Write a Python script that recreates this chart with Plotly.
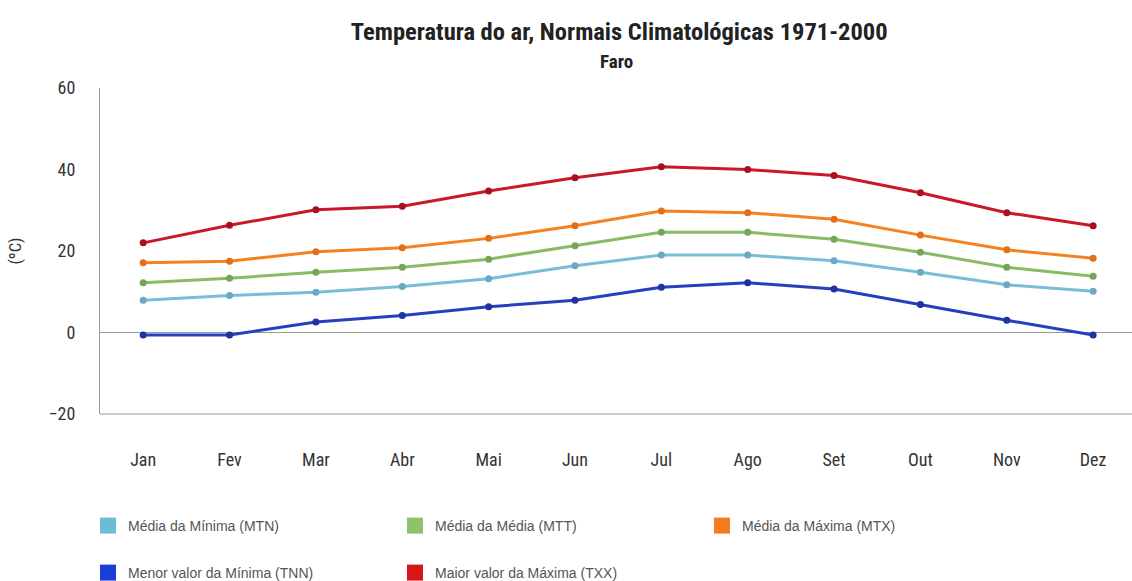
# { libraries
import plotly.graph_objects as go
# }

# { data
meses = ['Jan', 'Fev', 'Mar', 'Abr', 'Mai', 'Jun',
         'Jul', 'Ago', 'Set', 'Out', 'Nov', 'Dez']

mtn = [7.9, 9.1, 9.9, 11.3, 13.2, 16.4, 19.0, 19.0, 17.6, 14.8, 11.7, 10.1]
mtt = [12.2, 13.3, 14.8, 16.0, 18.0, 21.3, 24.6, 24.6, 22.9, 19.7, 16.0, 13.8]
mtx = [17.1, 17.5, 19.8, 20.8, 23.1, 26.2, 29.8, 29.4, 27.8, 23.9, 20.3, 18.2]
tnn = [-0.6, -0.6, 2.6, 4.2, 6.3, 7.9, 11.1, 12.2, 10.7, 6.9, 3.0, -0.6]
txx = [22.0, 26.3, 30.1, 31.0, 34.7, 38.0, 40.7, 40.0, 38.5, 34.3, 29.4, 26.2]

y_ticks = [-20, 0, 20, 40, 60]
# }

font_cond = "Liberation Sans Narrow, Arial Narrow, Roboto Condensed, Roboto, Liberation Sans, sans-serif"
font_leg = "Liberation Sans, Arial, sans-serif"

# (name, values, line color, marker color, legend color, legend)
series = [
    ('Média da Mínima (MTN)', mtn, '#7bbcd8', '#6aa9c6', '#6bbbd9', 'legend'),
    ('Média da Média (MTT)', mtt, '#88bb66', '#74a656', '#8dc26f', 'legend'),
    ('Média da Máxima (MTX)', mtx, '#f5821f', '#e0711a', '#f47c20', 'legend'),
    ('Menor valor da Mínima (TNN)', tnn, '#2440c0', '#1c34a0', '#1a3fd8', 'legend2'),
    ('Maior valor da Máxima (TXX)', txx, '#c8182a', '#a81020', '#d9151c', 'legend2'),
]

fig = go.Figure()

# lines with markers
for name, vals, lc, mc, legc, leg in series:
    fig.add_trace(go.Scatter(x=meses, y=vals, mode='lines+markers',
                             line=dict(color=lc, width=3),
                             marker=dict(color=mc, size=7),
                             showlegend=False, name=name))

# legend entries as squares
for name, vals, lc, mc, legc, leg in series:
    fig.add_trace(go.Scatter(x=[None], y=[None], mode='markers',
                             marker=dict(color=legc, size=17, symbol='square',
                                         line=dict(width=0)),
                             name=name, legend=leg))

leg_common = dict(orientation='h', xanchor='left', yanchor='top',
                  xref='container', yref='container',
                  font=dict(family=font_leg, size=14, color='#555555'),
                  entrywidth=262, entrywidthmode='pixels', itemsizing='trace',
                  bgcolor='rgba(0,0,0,0)')

fig.update_layout(
    width=1132, height=581,
    margin=dict(l=100, r=0, t=88, b=167, autoexpand=False),
    paper_bgcolor='white', plot_bgcolor='white',
    title=dict(text='<b>Temperatura do ar, Normais Climatológicas 1971-2000</b>',
               x=0.547, xanchor='center', y=1 - 31 / 581, yanchor='middle',
               font=dict(family=font_cond, size=24.5, color='#222222')),
    legend=dict(x=88 / 1132, y=1 - 510 / 581, **leg_common),
    legend2=dict(x=88 / 1132, y=1 - 557 / 581, **leg_common),
)

fig.add_annotation(text='<b>Faro</b>', xref='paper', yref='paper',
                   x=0.5, y=(88 - 61) / 326 + 1, xanchor='center', yanchor='middle',
                   showarrow=False,
                   font=dict(family=font_cond, size=19, color='#222222'))

fig.update_xaxes(range=[-0.5, 11.45], showgrid=False, showline=False,
                 ticks='', ticklabelstandoff=33, automargin=False,
                 tickfont=dict(family=font_cond, size=18, color='#333333'))
fig.update_yaxes(range=[-20, 60], tickvals=y_ticks, showgrid=False,
                 showline=True, linecolor='#999999', linewidth=1, mirror=False,
                 zeroline=True, zerolinecolor='#999999', zerolinewidth=1,
                 ticks='', ticklabelstandoff=20, automargin=False,
                 tickfont=dict(family=font_cond, size=18, color='#333333'),
                 title=dict(text='(ºC)', standoff=22,
                            font=dict(family=font_cond, size=17, color='#333333')))
# bottom border line
fig.add_shape(type='line', xref='paper', yref='paper', x0=0, x1=1, y0=0, y1=0,
              line=dict(color='#999999', width=1))

fig.write_html("out.html", config={'displayModeBar': False},
               post_script="document.body.style.margin='0';")
